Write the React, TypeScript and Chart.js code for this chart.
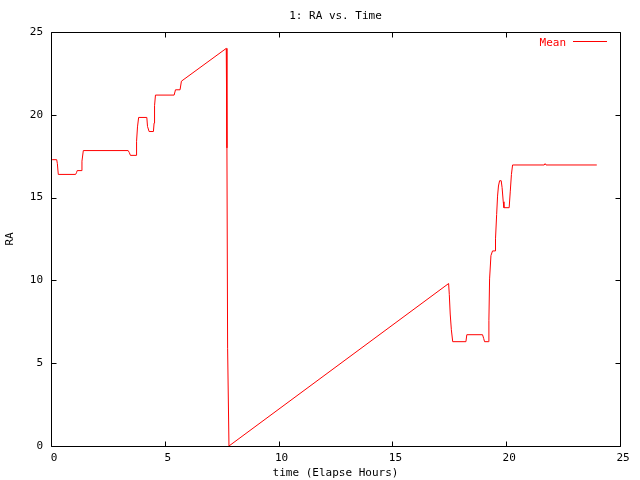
import React, { useEffect, useRef } from "react";
import { Chart, registerables } from "chart.js";

Chart.register(...registerables);

const TITLE = "1: RA vs. Time";
const X_LABEL = "time (Elapse Hours)";
const Y_LABEL = "RA";
const SERIES_LABEL = "Mean";
const X_TICKS = [0, 5, 10, 15, 20, 25];
const Y_TICKS = [0, 5, 10, 15, 20, 25];

const timeHours = [
  0.05, 0.25, 0.28, 0.32, 1.08, 1.12, 1.15, 1.32, 1.36, 1.42, 3.39, 3.44, 3.49, 3.74, 3.76, 3.8,
  3.85, 4.21, 4.24, 4.31, 4.5, 4.53, 4.55, 4.59, 5.41, 5.47, 5.67, 5.73, 7.7, 7.73, 7.76, 7.82,
  17.47, 17.5, 17.54, 17.59, 17.65, 18.23, 18.27, 18.96, 19.01, 19.05, 19.21, 19.24, 19.27, 19.33,
  19.4, 19.52, 19.53, 19.58, 19.62, 19.66, 19.71, 19.78, 19.82, 19.87, 19.9, 20.13, 20.18, 20.23,
  20.28, 21.67, 21.71, 21.75, 23.98,
];
const raMean = [
  17.29, 17.29, 17.05, 16.4, 16.4, 16.5, 16.63, 16.63, 17.2, 17.84, 17.84, 17.72, 17.55, 17.55,
  18.4, 19.27, 19.84, 19.84, 19.3, 18.99, 18.99, 19.5, 20.55, 21.19, 21.19, 21.51, 21.51, 22.03,
  24.01, 18.0, 5.9, 0.0, 9.81, 9.14, 7.97, 7.02, 6.3, 6.3, 6.72, 6.72, 6.5, 6.3, 6.3, 7.59, 10.09,
  11.5, 11.78, 11.78, 12.51, 13.98, 15.09, 15.7, 16.02, 16.02, 15.6, 14.75, 14.39, 14.39, 15.39,
  16.4, 16.97, 16.97, 17.05, 16.97, 16.97,
];

const FONT_FAMILY = "'DejaVu Sans Mono', monospace";
const FONT_SIZE = 11;
const TICK_LEN = 5;

const framePlugin = {
  id: "gnuframe",
  afterDraw(chart: any) {
    const { ctx, chartArea: a, scales } = chart;
    const xs = scales.x;
    const ys = scales.y;
    ctx.save();
    ctx.strokeStyle = "#000";
    ctx.lineWidth = 1;
    const L = Math.round(a.left) + 0.5;
    const R = Math.round(a.right) + 0.5;
    const T = Math.round(a.top) + 0.5;
    const B = Math.round(a.bottom) + 0.5;
    ctx.beginPath();
    ctx.rect(L, T, R - L, B - T);
    for (const v of X_TICKS) {
      const px = Math.round(xs.getPixelForValue(v)) + 0.5;
      ctx.moveTo(px, B);
      ctx.lineTo(px, B - TICK_LEN);
      ctx.moveTo(px, T);
      ctx.lineTo(px, T + TICK_LEN);
    }
    for (const v of Y_TICKS) {
      const py = Math.round(ys.getPixelForValue(v)) + 0.5;
      ctx.moveTo(L, py);
      ctx.lineTo(L + TICK_LEN, py);
      ctx.moveTo(R, py);
      ctx.lineTo(R - TICK_LEN, py);
    }
    ctx.stroke();

    ctx.font = `${FONT_SIZE}px ${FONT_FAMILY}`;
    ctx.fillStyle = "#000";
    ctx.textAlign = "center";
    ctx.textBaseline = "middle";
    ctx.fillText(TITLE, (a.left + a.right) / 2, 16);

    const ds = chart.data.datasets[0];
    ctx.fillStyle = ds.borderColor;
    ctx.textAlign = "right";
    ctx.fillText(ds.label, 566, 43);
    ctx.strokeStyle = ds.borderColor;
    ctx.beginPath();
    ctx.moveTo(573, 41.5);
    ctx.lineTo(607, 41.5);
    ctx.stroke();
    ctx.restore();
  },
};

export default function App() {
  const ref = useRef<HTMLCanvasElement>(null);
  useEffect(() => {
    const prevMargin = document.body.style.margin;
    document.body.style.margin = "0";
    const canvas = ref.current!;
    const font = { family: FONT_FAMILY, size: FONT_SIZE };
    const chart = new Chart(canvas, {
      type: "scatter",
      data: {
        datasets: [
          {
            label: SERIES_LABEL,
            data: timeHours.map((t, i) => ({ x: t, y: raMean[i] })),
            showLine: true,
            borderColor: "#ff0000",
            backgroundColor: "#ff0000",
            borderWidth: 1,
            pointRadius: 0,
            pointHoverRadius: 0,
            tension: 0,
          },
        ],
      },
      plugins: [framePlugin],
      options: {
        animation: false,
        responsive: false,
        devicePixelRatio: 1,
        events: [],
        layout: { padding: { top: 32, right: 20, left: 0, bottom: 0 } },
        plugins: {
          legend: { display: false },
          title: { display: false },
          tooltip: { enabled: false },
        },
        scales: {
          x: {
            type: "linear",
            min: 0,
            max: 25,
            afterFit: (s: any) => {
              s.height = 34;
            },
            afterBuildTicks: (s: any) => {
              s.ticks = X_TICKS.map((v) => ({ value: v }));
            },
            grid: { display: false, drawTicks: false },
            border: { display: false },
            ticks: { font, color: "#000", padding: 6, labelOffset: 3, maxRotation: 0 },
            title: { display: true, text: X_LABEL, font, color: "#000", padding: { top: 0, bottom: 0 } },
          },
          y: {
            type: "linear",
            min: 0,
            max: 25,
            afterFit: (s: any) => {
              s.width = 51;
            },
            afterBuildTicks: (s: any) => {
              s.ticks = Y_TICKS.map((v) => ({ value: v }));
            },
            grid: { display: false, drawTicks: false },
            border: { display: false },
            ticks: { font, color: "#000", padding: 8 },
            title: { display: true, text: Y_LABEL, font, color: "#000", padding: { top: 4, bottom: 0 } },
          },
        },
      },
    });
    return () => {
      chart.destroy();
      document.body.style.margin = prevMargin;
    };
  }, []);
  return (
    <div style={{ position: "absolute", left: 0, top: 0, width: 640, height: 480 }}>
      <canvas ref={ref} width={640} height={480} />
    </div>
  );
}
